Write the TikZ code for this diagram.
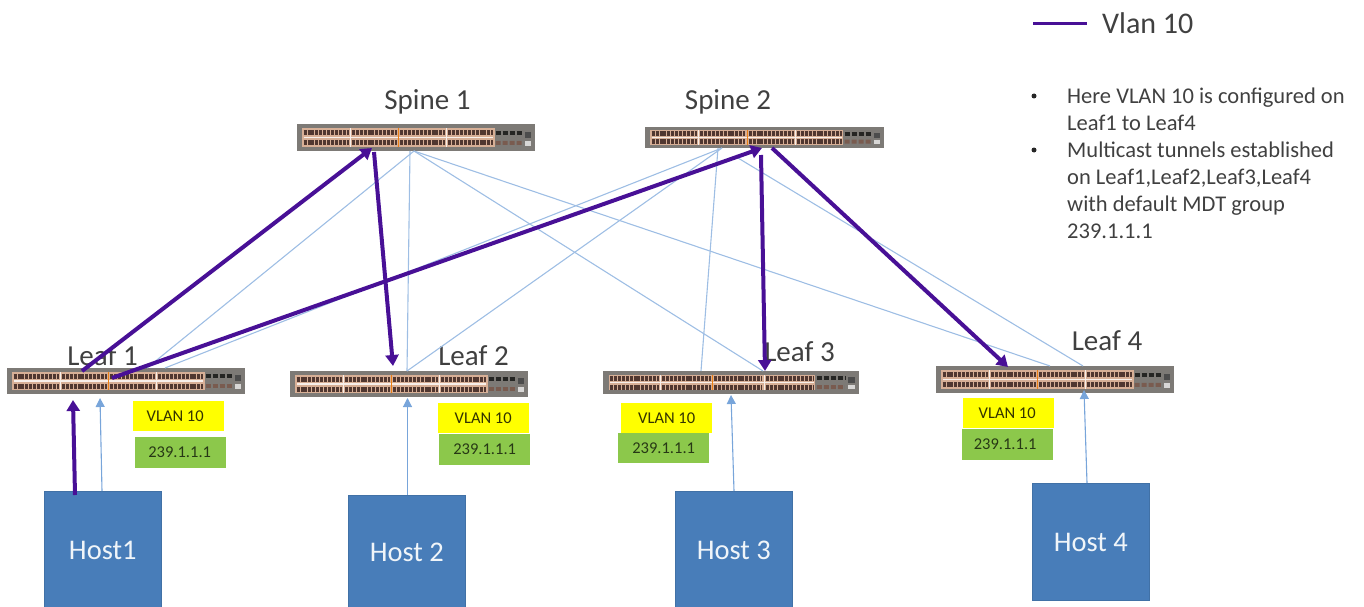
\documentclass[tikz,border=0pt]{standalone}
\usepackage{fontspec}
\setmainfont{Carlito}
\usetikzlibrary{calc,arrows.meta}
\definecolor{vlan}{RGB}{72,16,150}
\definecolor{thinb}{RGB}{158,190,228}
\definecolor{hostarrow}{RGB}{120,165,218}
\definecolor{hostfill}{RGB}{72,125,185}
\definecolor{ink}{RGB}{64,64,64}
\definecolor{swgray}{RGB}{125,122,118}
\definecolor{swtan}{RGB}{215,175,150}
\definecolor{swport}{RGB}{80,55,48}
\definecolor{vy}{RGB}{255,255,0}
\definecolor{vg}{RGB}{140,200,75}
\newcommand{\swfrac}[2]{($($(path picture bounding box.south west)!#1!(path picture bounding box.south east)$)!#2!($(path picture bounding box.north west)!#1!(path picture bounding box.north east)$)$)}
\tikzset{
  switchbox/.style={inner sep=0pt,outer sep=0pt,fill=swgray,minimum width=#1,minimum height=25pt,
    path picture={
      \fill[swtan] \swfrac{0.022}{0.16} rectangle \swfrac{0.83}{0.84};
      \foreach \a/\b in {0.028/0.217,0.231/0.42,0.434/0.622,0.636/0.825}{
        \draw[swport,line width=5pt,dash pattern=on 3pt off 0.9pt] \swfrac{\a}{0.69} -- \swfrac{\b}{0.69};
        \draw[swport,line width=5pt,dash pattern=on 3pt off 0.9pt] \swfrac{\a}{0.30} -- \swfrac{\b}{0.30};
      }
      \draw[white!80!swtan,line width=1.2pt] \swfrac{0.028}{0.5} -- \swfrac{0.825}{0.5};
      \draw[orange!70!brown,line width=1.2pt] \swfrac{0.428}{0.16} -- \swfrac{0.428}{0.84};
      \draw[white!80!swtan,line width=1pt] \swfrac{0.224}{0.16} -- \swfrac{0.224}{0.84};
      \draw[white!80!swtan,line width=1pt] \swfrac{0.629}{0.16} -- \swfrac{0.629}{0.84};
      \draw[black!70!swgray,line width=4pt,dash pattern=on 5pt off 2pt] \swfrac{0.835}{0.68} -- \swfrac{0.945}{0.68};
      \draw[swport!70!swtan,line width=4pt,dash pattern=on 5pt off 2pt] \swfrac{0.835}{0.3} -- \swfrac{0.945}{0.3};
      \fill[black!70] \swfrac{0.958}{0.5} rectangle \swfrac{0.985}{0.72};
      \fill[white!70!swgray] \swfrac{0.958}{0.2} rectangle \swfrac{0.985}{0.38};
    }},
  lbl/.style={text=ink,font=\fontsize{29}{32}\selectfont,inner sep=0pt},
  hostbox/.style={fill=hostfill,draw=hostfill!90!black,line width=.6pt,minimum width=117pt,text=white!92!hostfill,font=\fontsize{28.5}{32}\selectfont,inner sep=0pt,anchor=north west},
  vbox/.style={fill=vy,minimum width=91pt,minimum height=30pt,inner sep=0pt,text=black!80!vy,font=\fontsize{16.5}{18}\selectfont,anchor=north west},
  gbox/.style={fill=vg,minimum width=91pt,minimum height=31pt,inner sep=0pt,text=black!72!vg,font=\fontsize{16.5}{18}\selectfont,anchor=north west},
  thinlink/.style={draw=thinb,line width=1.1pt},
  hostlink/.style={draw=hostarrow,line width=1.1pt,-{Triangle[length=9pt,width=9pt]}},
  vlanlink/.style={draw=vlan,line width=4pt,-{Triangle[length=11pt,width=13pt]}},
  note/.style={text=ink,font=\fontsize{22.5}{27}\selectfont,align=left,inner sep=0pt,anchor=north west},
  dotmark/.style={circle,fill=black!85,minimum size=5pt,inner sep=0pt},
}
\begin{document}
\begin{tikzpicture}[x=1pt,y=-1pt]
\useasboundingbox (0,0) rectangle (1364,607);
% switches
\node[switchbox=238pt,minimum height=27pt] (spine1) at (416,137.5) {};
\node[switchbox=239pt,minimum height=21pt] (spine2) at (764.5,137.5) {};
\node[switchbox=238pt,minimum height=26pt] (leaf1) at (126,381) {};
\node[switchbox=238pt,minimum height=26pt] (leaf2) at (409,384) {};
\node[switchbox=256pt,minimum height=23pt] (leaf3) at (731,382.5) {};
\node[switchbox=238pt,minimum height=27pt] (leaf4) at (1055,379.5) {};
% labels
\node[lbl] (lspine1) at (427.5,102) {Spine 1};
\node[lbl] (lspine2) at (728,102) {Spine 2};
\node[lbl] (lleaf1) at (102.5,356) {Leaf 1};
\node[lbl] (lleaf2) at (473.5,356) {Leaf 2};
\node[lbl] (lleaf3) at (799.5,352) {Leaf 3};
\node[lbl] (lleaf4) at (1107,341) {Leaf 4};
% hosts
\node[hostbox,minimum height=116pt,text height=20pt] (host1) at (44,491) {Host1};
\node[hostbox,minimum height=112pt,text height=20pt] (host2) at (348,495) {Host 2};
\node[hostbox,minimum height=116pt,text height=20pt] (host3) at (675,491) {Host 3};
\node[hostbox,minimum height=117pt,text height=20pt] (host4) at (1032,483) {Host 4};
% tags
\node[vbox] (v1) at (133,401) {\hspace*{-7pt}VLAN 10};
\node[gbox] (g1) at (135,437) {\hspace*{-2pt}239.1.1.1};
\node[vbox] (v2) at (437.5,403) {VLAN 10};
\node[gbox] (g2) at (439,434) {239.1.1.1};
\node[vbox] (v3) at (621,403) {VLAN 10};
\node[gbox,minimum height=30pt] (g3) at (618,433) {239.1.1.1};
\node[vbox] (v4) at (963,398) {\hspace*{-3pt}VLAN 10};
\node[gbox] (g4) at (962,429) {\hspace*{-5pt}239.1.1.1};
% thin links
\draw[thinlink] ([xshift=117pt]spine1.south west) -- ([xshift=140pt]leaf1.north west);
\draw[thinlink] ([xshift=113pt]spine1.south west) -- ([xshift=117pt]leaf2.north west);
\draw[thinlink] ([xshift=117pt]spine1.south west) -- ([xshift=160pt]leaf3.north west);
\draw[thinlink] ([xshift=117pt]spine1.south west) -- ([xshift=114pt]leaf4.north west);
\draw[thinlink] ([xshift=77pt]spine2.south west) -- ([xshift=158pt]leaf1.north west);
\draw[thinlink] ([xshift=77pt]spine2.south west) -- ([xshift=117pt]leaf2.north west);
\draw[thinlink] ([xshift=73pt]spine2.south west) -- ([xshift=98pt]leaf3.north west);
\draw[thinlink] ([xshift=93pt,yshift=-10pt]spine2.south west) -- ([xshift=147pt]leaf4.north west);
% host links
\draw[hostlink] ([xshift=58pt]host1.north west) -- ([xshift=93pt,yshift=-4pt]leaf1.south west);
\draw[hostlink] ([xshift=59.5pt]host2.north west) -- ([xshift=117.5pt,yshift=-1pt]leaf2.south west);
\draw[hostlink] ([xshift=59pt]host3.north west) -- ([xshift=128pt,yshift=-1pt]leaf3.south west);
\draw[hostlink] ([xshift=55pt]host4.north west) -- ([xshift=148pt,yshift=3pt]leaf4.south west);
% vlan links
\draw[vlanlink] ([xshift=31pt,yshift=-4pt]host1.north west) -- ([xshift=66pt,yshift=-6pt]leaf1.south west);
\draw[vlanlink] ([xshift=75pt,yshift=-3pt]leaf1.north west) -- ([xshift=75pt,yshift=3pt]spine1.south west);
\draw[vlanlink] ([xshift=105pt,yshift=-10pt]leaf1.north west) -- ([xshift=117pt,yshift=0pt]spine2.south west);
\draw[vlanlink] ([xshift=77pt,yshift=-1pt]spine1.south west) -- ([xshift=103pt,yshift=5pt]leaf2.north west);
\draw[vlanlink] ([xshift=116pt,yshift=-7pt]spine2.south west) -- ([xshift=162pt]leaf3.north west);
\draw[vlanlink] ([xshift=127pt]spine2.south west) -- ([xshift=72pt,yshift=-1pt]leaf4.north west);
% legend
\coordinate (legA) at (1033,23.5);
\coordinate (legB) at (1087,23.5);
\draw[draw=vlan,line width=2.8pt] (legA) -- (legB);
\node[lbl,anchor=west,font=\fontsize{30}{32}\selectfont] (legend) at (1102,23) {Vlan 10};
\node[dotmark] (b1) at (1034,96) {};
\node[note] (n1) at (1067,88) {Here VLAN 10 is configured on\\Leaf1 to Leaf4};
\node[dotmark] (b2) at (1034,150) {};
\node[note] (n2) at (1067,142) {Multicast tunnels established\\on Leaf1,Leaf2,Leaf3,Leaf4\\with default MDT group\\239.1.1.1};
\end{tikzpicture}
\end{document}
